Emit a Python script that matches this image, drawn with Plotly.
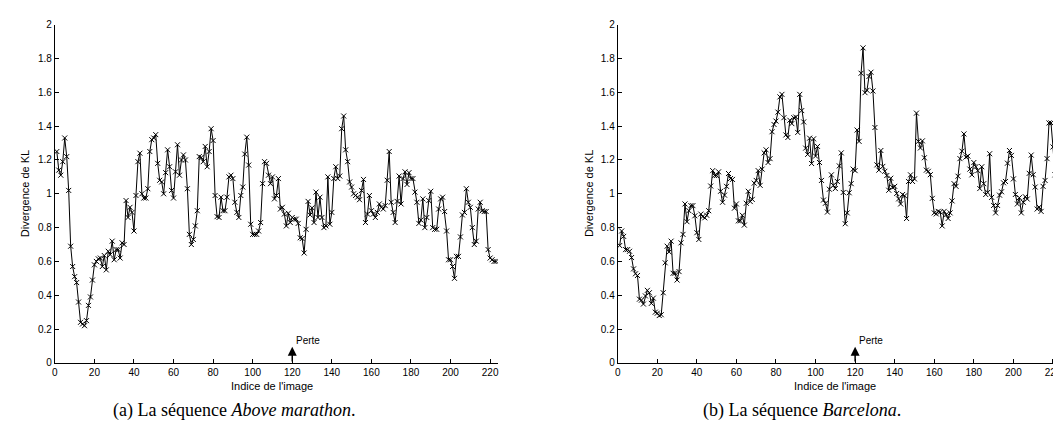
import plotly.graph_objects as go

# Divergence de KL, sequence "Above marathon" (frames 1..223)
above_marathon = [
    1.25, 1.14, 1.11, 1.19, 1.33, 1.22, 1.02, 0.69, 0.57, 0.51,
    0.475, 0.36, 0.24, 0.23, 0.22, 0.25, 0.34, 0.39, 0.49, 0.58,
    0.60, 0.615, 0.62, 0.57, 0.635, 0.55, 0.66, 0.64, 0.72, 0.61,
    0.67, 0.67, 0.62, 0.71, 0.70, 0.96, 0.86,
    0.92, 0.89, 0.78, 0.99, 1.19, 1.24, 1.0, 0.975, 0.975, 1.03,
    1.25, 1.32, 1.33, 1.35, 1.18, 1.08, 1.07, 1.0, 1.125, 1.26,
    1.16, 1.02, 0.975, 1.13, 1.29, 1.11, 1.2, 1.23, 1.2, 1.03,
    0.76, 0.70, 0.73, 0.81, 0.90, 1.22, 1.215, 1.19, 1.28, 1.16,
    1.25, 1.385, 1.315, 0.99, 0.865,
    0.86, 0.98, 0.90, 0.90, 0.98, 1.10, 1.11, 1.09, 0.95, 0.89,
    0.86, 0.99, 1.04, 1.235, 1.335, 1.17, 0.82, 0.76, 0.76, 0.76,
    0.78, 0.83, 1.06, 1.19, 1.18, 1.11, 1.06, 1.10, 0.97, 0.99,
    1.09, 0.91, 0.92, 0.88, 0.81, 0.885, 0.83, 0.86, 0.85, 0.85,
    0.825, 0.74, 0.735, 0.65, 0.79,
    0.955, 0.875, 0.917, 0.83, 1.01, 0.86, 0.98, 0.86, 0.80, 0.81,
    1.10, 0.82, 0.89, 1.09, 1.16, 1.09, 1.105, 1.385, 1.46, 1.26,
    1.19, 1.07, 1.04, 1.0, 0.99, 0.98, 0.965, 1.02, 1.085, 0.83,
    0.88, 0.99, 0.90, 0.88, 0.86, 0.89, 0.94, 0.92, 0.91, 0.93,
    1.08, 1.25, 0.95, 0.89, 0.83, 0.955,
    1.105, 0.94, 1.09, 1.13, 1.055, 1.125, 1.09, 1.09, 1.01, 0.95,
    0.825, 0.845, 0.97, 0.80, 0.86, 0.96, 1.015, 0.80, 0.79, 0.79,
    0.91, 0.97, 0.98, 0.895, 0.78, 0.61, 0.61, 0.57, 0.50, 0.63,
    0.63, 0.745, 0.875, 0.89, 1.03, 0.95, 0.92, 0.80, 0.70, 0.72,
    0.91, 0.95, 0.90, 0.895, 0.895, 0.67, 0.62, 0.61, 0.60, 0.60,
]

# Divergence de KL, sequence "Barcelona"
barcelona = [
    0.694, 0.78, 0.748, 0.67, 0.67, 0.66, 0.623, 0.556, 0.527, 0.517,
    0.377, 0.371, 0.348, 0.396, 0.429, 0.415, 0.352, 0.383, 0.30, 0.294,
    0.28, 0.285, 0.415, 0.592, 0.69, 0.656, 0.72, 0.53, 0.53, 0.49,
    0.54, 0.71, 0.76, 0.94, 0.835, 0.90, 0.93, 0.93, 0.87, 0.77,
    0.73, 0.88, 0.865, 0.858, 0.873, 0.90, 1.046, 1.137, 1.108, 1.108,
    1.13, 1.015, 0.95, 0.992, 1.044, 1.12, 1.09, 1.085, 0.915, 0.94,
    0.84, 0.84, 0.873, 0.815, 0.944, 1.015, 0.954, 0.967, 1.063, 1.079,
    1.137, 1.05, 1.146, 1.242, 1.26, 1.185, 1.208, 1.367, 1.41, 1.43,
    1.483, 1.573, 1.588, 1.45, 1.348, 1.333, 1.435, 1.415, 1.45, 1.454,
    1.363, 1.588, 1.492, 1.425, 1.27, 1.233, 1.329, 1.179, 1.325, 1.223,
    1.28, 1.185, 1.079, 0.963, 0.944, 0.892, 1.027, 1.112, 1.05, 1.031,
    1.073, 1.165, 1.242, 1.008, 0.823, 0.887, 1.006, 1.06, 1.146, 1.137,
    1.377, 1.31, 1.713, 1.863, 1.598, 1.612, 1.694, 1.719, 1.608, 1.392,
    1.171, 1.14, 1.256, 1.162, 1.133, 1.108, 1.021, 1.092, 1.037, 1.044,
    1.002, 0.97, 0.94, 0.996, 0.988, 0.854, 1.073, 1.112, 1.073, 1.088,
    1.477, 1.31, 1.271, 1.313, 1.213, 1.14, 1.133, 1.113, 0.973, 0.887,
    0.881, 0.896, 0.892, 0.81, 0.896, 0.877, 0.854, 0.887, 0.958, 1.06,
    1.044, 1.104, 1.208, 1.252, 1.354, 1.217, 1.223, 1.146, 1.112, 1.185,
    1.16, 1.137, 1.031, 1.16, 1.06, 0.996, 1.008, 1.237, 0.979, 0.931,
    0.887, 0.931, 0.992, 1.012, 1.065, 1.073, 1.181, 1.256, 1.227, 1.088,
    0.996, 0.94, 0.977, 0.887, 0.95, 0.983, 0.969, 1.121, 1.229, 1.113,
    1.04, 0.91, 0.921, 0.896, 1.044, 1.079, 1.208, 1.419, 1.419, 1.277,
    1.112, 1.065, 1.06,
]

x_ticks = list(range(0, 221, 20))
y_ticks = [0, 0.2, 0.4, 0.6, 0.8, 1, 1.2, 1.4, 1.6, 1.8, 2]
y_ticklabels = ["0", "0.2", "0.4", "0.6", "0.8", "1", "1.2", "1.4", "1.6", "1.8", "2"]
loss_frame = 120
captions = [
    "(a) La séquence <i>Above marathon</i>.",
    "(b) La séquence <i>Barcelona</i>.",
]

W, H = 1061, 434
PX_PER_FRAME = 1.986
X_MAX = 224
SANS = "Liberation Sans, Arial, sans-serif"
SERIF = "Liberation Serif, Times New Roman, serif"

fig = go.Figure()

panels = [
    {"series": above_marathon, "x0": 44, "xa": "x", "ya": "y", "caption_x": 224, "ylab_x": 14},
    {"series": barcelona, "x0": 609, "xa": "x2", "ya": "y2", "caption_x": 794, "ylab_x": 580},
]

y_dom = [1 - 359 / H, 1 - 12 / H]

for i, p in enumerate(panels):
    frames = list(range(1, len(p["series"]) + 1))
    fig.add_trace(
        go.Scatter(
            x=frames,
            y=p["series"],
            xaxis=p["xa"],
            yaxis=p["ya"],
            mode="lines+markers",
            line={"color": "black", "width": 1},
            marker={
                "symbol": "x-thin",
                "size": 5,
                "color": "black",
                "line": {"color": "black", "width": 1},
            },
            showlegend=False,
        )
    )

    x_end = p["x0"] + X_MAX * PX_PER_FRAME
    axis_style = {
        "showline": True,
        "linecolor": "black",
        "linewidth": 1,
        "ticks": "inside",
        "ticklen": 4,
        "tickcolor": "black",
        "showgrid": False,
        "zeroline": False,
        "tickfont": {"family": SANS, "size": 10, "color": "black"},
    }
    suffix = "" if i == 0 else "2"
    fig.update_layout(
        {
            f"xaxis{suffix}": {
                **axis_style,
                "domain": [p["x0"] / W, x_end / W],
                "range": [0, X_MAX],
                "tickvals": x_ticks,
                "anchor": p["ya"],
            },
            f"yaxis{suffix}": {
                **axis_style,
                "domain": y_dom,
                "range": [0, 2],
                "tickvals": y_ticks,
                "ticktext": y_ticklabels,
                "anchor": p["xa"],
            },
        }
    )

    # Axis titles
    x_center = p["x0"] + 110 * PX_PER_FRAME
    fig.add_annotation(
        text="Indice de l'image", xref="paper", yref="paper",
        x=x_center / W, y=1 - 383 / H, xanchor="center", yanchor="middle",
        showarrow=False,
        font={"family": SANS, "size": 11, "color": "black"},
    )
    fig.add_annotation(
        text="Divergence de KL", xref="paper", yref="paper",
        x=p["ylab_x"] / W, y=1 - 185 / H, xanchor="center", yanchor="middle",
        textangle=-90, showarrow=False,
        font={"family": SANS, "size": 11, "color": "black"},
    )

    # Loss marker
    fig.add_annotation(
        x=loss_frame, y=0.095, ax=loss_frame, ay=0.0,
        xref=p["xa"], yref=p["ya"], axref=p["xa"], ayref=p["ya"],
        text="", showarrow=True, arrowhead=2, arrowsize=1.2,
        arrowwidth=1.5, arrowcolor="black",
    )
    fig.add_annotation(
        x=loss_frame + 0.8, y=0.13, xref=p["xa"], yref=p["ya"],
        text="Perte", showarrow=False, xanchor="left", yanchor="middle",
        font={"family": SANS, "size": 10, "color": "black"},
    )

    # Sub-figure caption
    fig.add_annotation(
        text=captions[i], xref="paper", yref="paper",
        x=p["caption_x"] / W, y=1 - 408 / H, xanchor="center", yanchor="middle",
        showarrow=False,
        font={"family": SERIF, "size": 18, "color": "black"},
    )

fig.update_layout(
    width=W,
    height=H,
    margin={"l": 0, "r": 0, "t": 0, "b": 0},
    paper_bgcolor="white",
    plot_bgcolor="white",
)

fig.write_html("out.html")
